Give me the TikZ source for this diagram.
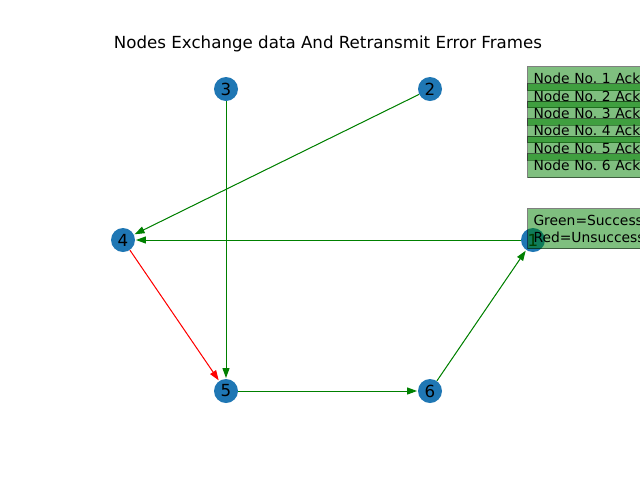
\documentclass[tikz,border=0pt]{standalone}
\usepackage{fontspec}
\setmainfont{DejaVu Sans}
\usetikzlibrary{arrows.meta}
\definecolor{mplblue}{HTML}{1F77B4}
\definecolor{mplgreen}{HTML}{008000}
\definecolor{mplred}{HTML}{FF0000}
\begin{document}
\frenchspacing
\begin{tikzpicture}[x=0.75pt,y=-0.75pt,
  vert/.style={circle, fill=mplblue, minimum size=18pt, inner sep=0pt, font=\fontsize{12.5}{15}\selectfont},
  edge/.style={line width=0.75pt, -{Triangle[length=7.5pt,width=5.25pt]}, shorten >=0.5pt},
  okedge/.style={edge, draw=mplgreen, fill=mplgreen},
  baddedge/.style={edge, draw=mplred, fill=mplred},
  ackbox/.style={anchor=north west, fill=mplgreen, fill opacity=0.5, draw=black, draw opacity=0.5, text opacity=1, line width=0.75pt,
    inner xsep=4.5pt, inner ysep=0pt, text width=150pt, align=left, minimum height=18pt,
    font=\fontsize{10.4}{12.75}\selectfont},
  titlestyle/.style={font=\fontsize{12.5}{15}\selectfont}
]
\useasboundingbox (0,0) rectangle (640,476);
\fill[white] (0,0) rectangle (640,476);
\node[titlestyle] (title) at (328,44) {Nodes Exchange data And Retransmit Error Frames};
\node[vert] (n1) at (533,240) {1};
\node[vert] (n2) at (430,89) {2};
\node[vert] (n3) at (226,89) {3};
\node[vert] (n4) at (123,240) {4};
\node[vert] (n5) at (226,391) {5};
\node[vert] (n6) at (430,391) {6};
\draw[okedge] (n2) -- (n4);
\draw[okedge] (n3) -- (n5);
\draw[okedge] (n1) -- (n4);
\draw[baddedge] (n4) -- (n5);
\draw[okedge] (n5) -- (n6);
\draw[okedge] (n6) -- (n1);
\node[ackbox] (a1) at (527,66) {Node No. 1 Ack};
\node[ackbox] (a2) at (527,83.4) {Node No. 2 Ack};
\node[ackbox] (a3) at (527,100.8) {Node No. 3 Ack};
\node[ackbox] (a4) at (527,118.2) {Node No. 4 Ack};
\node[ackbox] (a5) at (527,135.6) {Node No. 5 Ack};
\node[ackbox] (a6) at (527,153) {Node No. 6 Ack};
\node[ackbox, minimum height=30pt] (legend) at (527,208) {Green=Success\\Red=Unsuccessful};
\end{tikzpicture}
\end{document}
